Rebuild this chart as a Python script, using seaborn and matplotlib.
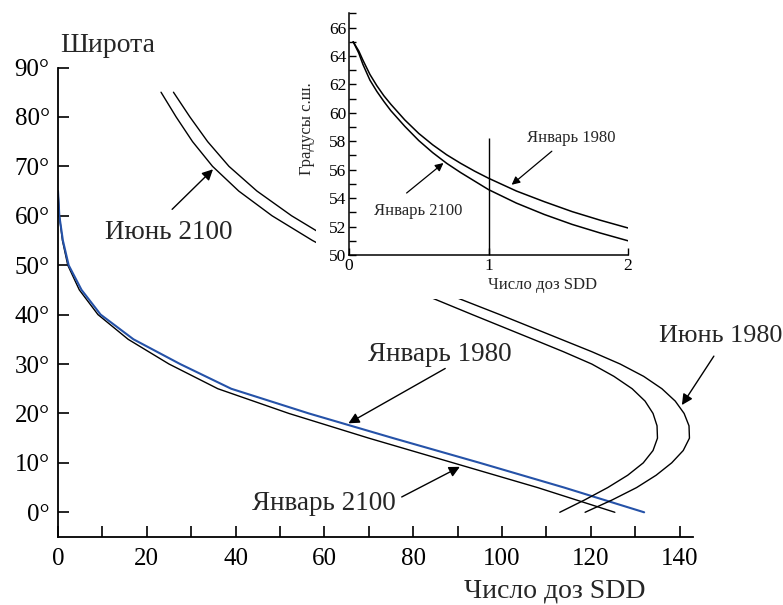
import matplotlib
matplotlib.use("Agg")
import matplotlib.pyplot as plt
from matplotlib.ticker import MultipleLocator
from matplotlib.patches import Rectangle
import seaborn as sns

# Январь: широта (град.) и число доз SDD
lat_jan = [65, 60, 55, 50, 45, 40, 35, 30, 25, 20, 15, 10, 5, 0]
doze_jan_1980 = [0, 0.3, 1.1, 2.4, 5.3, 9.6, 17, 27.5, 39, 56.5, 75.5, 95, 114, 132]
doze_jan_2100 = [0, 0.3, 1.0, 2.2, 4.8, 9, 15.8, 25, 36, 52, 70, 89, 108, 125.4]

# Июнь
lat_jun = [85, 80, 75, 70, 65, 60, 55, 50, 45, 40, 35, 32.5, 30, 27.5, 25, 22.5, 20,
           17.5, 15, 12.5, 10, 7.5, 5, 2.5, 0]
doze_jun_1980 = [26, 29.7, 33.7, 38.5, 44.8, 52.6, 61.8, 72.6, 85.3, 99.5, 113.3, 120.2, 126.6,
                 131.9, 136, 139, 141, 142.1, 142.2, 140.8, 138.2, 134.7, 130.3, 124.8, 118.7]
doze_jun_2100 = [23.2, 26.6, 30.3, 34.8, 40.7, 48.2, 57.3, 67.8, 79.8, 93.3, 107, 113.8, 120.2,
                 125.2, 129.3, 132.2, 134, 134.9, 135, 134, 131.8, 128.3, 123.8, 118.6, 113]

# вставка: январь, 50-65 с.ш.
doze_vst = [0.03, 0.07, 0.1, 0.15, 0.2, 0.25, 0.3, 0.4, 0.5, 0.6, 0.7, 0.8, 0.9, 1.0,
            1.2, 1.4, 1.6, 1.8, 2.0]
lat_vst_1980 = [65, 64.35, 63.7, 62.7, 61.9, 61.2, 60.6, 59.5, 58.55, 57.75, 57.05, 56.45,
                55.9, 55.4, 54.5, 53.75, 53.05, 52.45, 51.9]
lat_vst_2100 = [65, 64.2, 63.4, 62.3, 61.5, 60.8, 60.15, 59.05, 58.05, 57.2, 56.45, 55.8,
                55.2, 54.6, 53.65, 52.85, 52.15, 51.55, 51.0]
porog_doza = 1
porog_lat = 58.2

lat_ticks = [0, 10, 20, 30, 40, 50, 60, 70, 80, 90]
lat_labels = [f"{t}°" for t in lat_ticks]

sns.set_style("ticks", {"xtick.direction": "in", "ytick.direction": "in"})
plt.rcParams['font.family'] = ['Liberation Serif', 'DejaVu Serif']

fig = plt.figure(figsize=(7.83, 6.05), dpi=100)
ax = fig.add_axes([58 / 783, 68 / 605, 635 / 783, 469.5 / 605])
ax.set_zorder(0)

sinij = '#2552a8'
sns.lineplot(x=doze_jan_2100, y=lat_jan, sort=False, estimator=None, color='black', lw=1.0, ax=ax)
sns.lineplot(x=doze_jan_1980, y=lat_jan, sort=False, estimator=None, color=sinij, lw=1.5, ax=ax)
sns.lineplot(x=doze_jun_2100, y=lat_jun, sort=False, estimator=None, color='black', lw=1.0, ax=ax)
sns.lineplot(x=doze_jun_1980, y=lat_jun, sort=False, estimator=None, color='black', lw=1.0, ax=ax)

ax.set_xlim(0, 143)
ax.set_ylim(-5, 90)
ax.xaxis.set_major_locator(MultipleLocator(20))
ax.xaxis.set_minor_locator(MultipleLocator(10))
ax.set_yticks(lat_ticks)
ax.set_yticklabels(lat_labels)
ax.tick_params(which='both', direction='in', length=8, width=1.2, labelsize=18, colors='black')
ax.tick_params(axis='x', pad=8)
ax.tick_params(axis='y', pad=6)
for s in ['top', 'right']:
    ax.spines[s].set_visible(False)
for s in ['left', 'bottom']:
    ax.spines[s].set_linewidth(1.3)
    ax.spines[s].set_color('black')
ax.set_xlabel('')
ax.set_ylabel('')

strelka = dict(arrowstyle='-|>', color='black', lw=1.0, mutation_scale=16,
               shrinkA=0, shrinkB=0)
ax.annotate('', xy=(34.9, 69.4), xytext=(25.7, 61.3), arrowprops=strelka)
ax.text(24.9, 56.7, 'Июнь 2100', ha='center', va='center', size=19.5)
ax.annotate('', xy=(65.4, 18.0), xytext=(87.2, 29.1), arrowprops=strelka)
ax.text(86.0, 32.0, 'Январь 1980', ha='center', va='center', size=19.5)
ax.annotate('', xy=(90.5, 9.2), xytext=(77.4, 3.1), arrowprops=strelka)
ax.text(59.9, 1.8, 'Январь 2100', ha='center', va='center', size=19.5)
ax.annotate('', xy=(140.5, 21.7), xytext=(147.7, 31.6), arrowprops=strelka,
            annotation_clip=False)
ax.text(135.4, 35.7, 'Июнь 1980', ha='left', va='center', size=18.8, clip_on=False)

fig.text(60 / 783, 1 - 45.5 / 605, 'Широта', ha='left', va='center', size=20)
fig.text(555 / 783, 1 - 591 / 605, 'Число доз SDD', ha='center', va='center', size=20)

# белый фон под вставкой
fig.add_artist(Rectangle((316 / 783, (605 - 299) / 605), (650 - 316) / 783, 1,
                         transform=fig.transFigure, facecolor='white',
                         edgecolor='none', zorder=1))

ax_in = fig.add_axes([349 / 783, (605 - 255) / 605, 279 / 783, (255 - 13.3) / 605])
ax_in.set_zorder(2)
ax_in.patch.set_facecolor('white')
sns.lineplot(x=doze_vst, y=lat_vst_1980, sort=False, estimator=None, color='black', lw=1.1, ax=ax_in)
sns.lineplot(x=doze_vst, y=lat_vst_2100, sort=False, estimator=None, color='black', lw=1.1, ax=ax_in)
ax_in.vlines(porog_doza, 50, porog_lat, color='black', lw=1.0)
ax_in.set_xlim(0, 2)
ax_in.set_ylim(50, 67)
ax_in.set_xticks([0, 1, 2])
ax_in.yaxis.set_major_locator(MultipleLocator(2))
ax_in.yaxis.set_minor_locator(MultipleLocator(1))
ax_in.tick_params(which='both', direction='in', length=5, width=1.0, labelsize=12.5, colors='black', pad=2)
for s in ['top', 'right']:
    ax_in.spines[s].set_visible(False)
for s in ['left', 'bottom']:
    ax_in.spines[s].set_linewidth(1.1)
    ax_in.spines[s].set_color('black')
ax_in.set_xlabel('')
ax_in.set_ylabel('')

strelka_m = dict(arrowstyle='-|>', color='black', lw=0.9, mutation_scale=12,
                 shrinkA=0, shrinkB=0)
ax_in.annotate('', xy=(1.166, 54.94), xytext=(1.454, 57.3), arrowprops=strelka_m)
ax_in.text(1.59, 58.24, 'Январь 1980', ha='center', va='center', size=12)
ax_in.annotate('', xy=(0.677, 56.47), xytext=(0.413, 54.36), arrowprops=strelka_m)
ax_in.text(0.497, 53.06, 'Январь 2100', ha='center', va='center', size=12)

fig.text(307 / 783, 1 - 129 / 605, 'Градусы с.ш.', rotation=90, ha='center', va='center', size=12)
fig.text(543 / 783, 1 - 285 / 605, 'Число доз SDD', ha='center', va='center', size=12)

fig.savefig('out.png', dpi=100)
